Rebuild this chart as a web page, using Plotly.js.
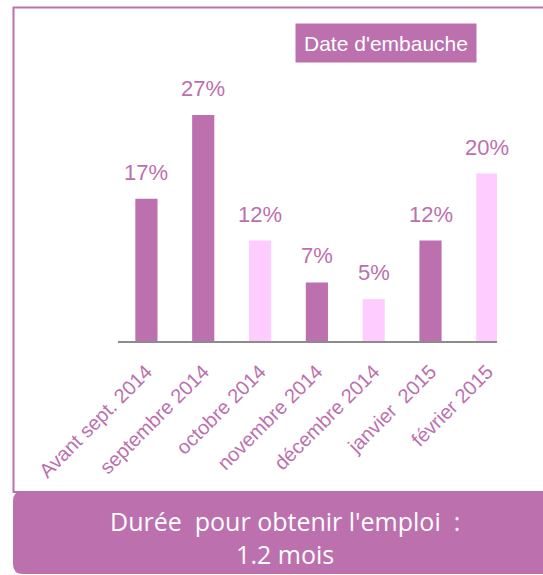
<!DOCTYPE html>
<html>
<head>
<meta charset="utf-8">
<script src="https://cdn.plot.ly/plotly-3.0.1.min.js"></script>
<style>html,body{margin:0;padding:0;background:#fff;}#chart{width:543px;height:575px;}</style>
</head>
<body>
<div id="chart"></div>
<script>
var categories = ["Avant sept. 2014", "septembre 2014", "octobre 2014", "novembre 2014", "décembre 2014", "janvier  2015", "février 2015"];
var values = [17, 27, 12, 7, 5, 12, 20];
var legendTitle = "Date d'embauche";
var footerLine1 = "Durée\u00a0 pour obtenir l'emploi\u00a0 :";
var footerLine2 = "1.2 mois";

var DARK = '#BC70AE', LIGHT = '#FFCCFF';
var barColors = [DARK, DARK, LIGHT, DARK, LIGHT, DARK, LIGHT];
var SANS = "'Liberation Sans', Arial, sans-serif";

// pixel -> paper helpers (plot area: x 118..497, y 10..341)
var L = 118, W = 379, T = 10, H = 331;
function px(X){ return (X - L) / W; }
function py(Y){ return (T + H - Y) / H; }

var valueLabels = categories.map(function(c, i){
  return {x: c, y: values[i], xref: 'x', yref: 'y', text: values[i] + '%',
    showarrow: false, yanchor: 'bottom', yshift: 12,
    font: {family: SANS, size: 22, color: DARK}};
});

var x0 = 13, x1 = 600, yb0 = 491, yb1 = 574, r = 10;
var boxPath = 'M' + px(x0) + ',' + py(yb0 + r) +
  ' Q' + px(x0) + ',' + py(yb0) + ' ' + px(x0 + r) + ',' + py(yb0) +
  ' L' + px(x1) + ',' + py(yb0) +
  ' L' + px(x1) + ',' + py(yb1) +
  ' L' + px(x0 + r) + ',' + py(yb1) +
  ' Q' + px(x0) + ',' + py(yb1) + ' ' + px(x0) + ',' + py(yb1 - r) + ' Z';

var data = [{
  type: 'bar', x: categories, y: values,
  marker: {color: barColors, line: {width: 0}},
  cliponaxis: false, hoverinfo: 'skip', showlegend: false
}];

var layout = {
  width: 543, height: 575,
  margin: {l: L, r: 543 - L - W, t: T, b: 575 - T - H, pad: 0},
  paper_bgcolor: '#fff', plot_bgcolor: 'rgba(0,0,0,0)',
  bargap: 0.61,
  showlegend: false,
  xaxis: {type: 'category', range: [-0.5, 6.17], showline: true, linecolor: '#8c8c8c', linewidth: 2,
    ticks: '', tickangle: -45, showgrid: false, zeroline: false, fixedrange: true, ticklabelstandoff: 9,
    tickfont: {family: SANS, size: 20, color: DARK}},
  yaxis: {range: [0, 331 / 8.37], visible: false, showgrid: false, zeroline: false, fixedrange: true},
  shapes: [
    {type: 'rect', xref: 'paper', yref: 'paper', x0: px(13.5), x1: px(600), y0: py(492), y1: py(7.5),
      line: {color: DARK, width: 2}, fillcolor: 'rgba(0,0,0,0)', layer: 'below'},
    {type: 'path', xref: 'paper', yref: 'paper', path: boxPath, fillcolor: DARK, line: {width: 0}, layer: 'above'}
  ],
  annotations: valueLabels.concat([
    {xref: 'paper', yref: 'paper', x: px(386), y: py(43), text: legendTitle, showarrow: false,
      xanchor: 'center', yanchor: 'middle', bgcolor: DARK, width: 176, height: 34, borderpad: 2,
      font: {family: SANS, size: 21, color: '#fff'}},
    {xref: 'paper', yref: 'paper', x: px(284.5), y: py(537), text: footerLine1 + '<br>' + footerLine2,
      showarrow: false, xanchor: 'center', yanchor: 'middle', align: 'center',
      font: {family: "'Open Sans', 'Noto Sans', sans-serif", size: 25, color: '#fff'}}
  ])
};

Plotly.newPlot('chart', data, layout, {displayModeBar: false, staticPlot: true});
</script>
</body>
</html>
